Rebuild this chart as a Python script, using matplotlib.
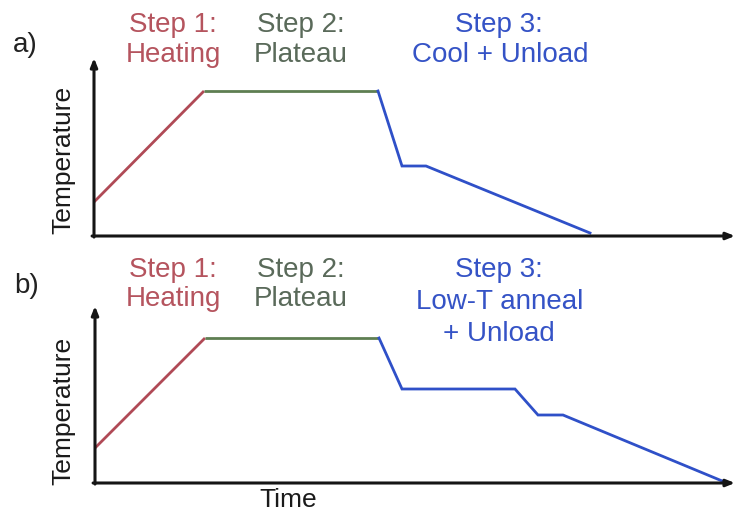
import matplotlib
matplotlib.use("Agg")
import matplotlib.pyplot as plt

plt.rcParams['font.family'] = ['Liberation Sans', 'DejaVu Sans']

W, H = 735, 514

# Temperature profiles (arbitrary time / temperature units)
time_a = [0, 110, 284, 308, 332, 496]
temp_a = [34, 145, 145, 70, 70, 3]
time_b = [0, 110, 284, 307, 420, 443, 468, 632]
temp_b = [35, 145, 145, 94, 94, 68, 68, 0]

step_titles = ["Step 1:", "Step 2:", "Step 3:"]
step_names_a = ["Heating", "Plateau", "Cool + Unload"]
step_names_b = ["Heating", "Plateau", "Low-T anneal", "+ Unload"]
panel_labels = ["a)", "b)"]

RED = "#b04a56"
GREEN = "#5e7e52"
BLUE = "#2f50c8"
RED_T = "#b5545e"
GREEN_T = "#5a6a5a"
BLUE_T = "#3553c6"

fig = plt.figure(figsize=(W / 100, H / 100), dpi=100)


def px_axes(x0, y_top, x1, y_bot):
    return fig.add_axes([x0 / W, 1 - y_bot / H, (x1 - x0) / W, (y_bot - y_top) / H])


def draw_profile(ax, t, T, xmax, ymax):
    ax.set_xlim(0, xmax)
    ax.set_ylim(0, ymax)
    ax.axis('off')
    lw = 2.0
    ax.plot(t[:2], T[:2], color=RED, lw=lw, solid_capstyle='butt', zorder=3)
    ax.plot(t[1:3], T[1:3], color=GREEN, lw=lw, solid_capstyle='butt', zorder=3)
    ax.plot(t[2:], T[2:], color=BLUE, lw=lw, solid_joinstyle='miter', zorder=3)
    # axes with arrow heads
    ax.annotate('', xy=(0, 1.0), xytext=(0, -0.006), xycoords='axes fraction',
                arrowprops=dict(arrowstyle='-|>,head_length=0.5,head_width=0.2',
                                color='#151515', lw=2.2, shrinkA=0, shrinkB=0),
                annotation_clip=False)
    ax.annotate('', xy=(1.0, 0), xytext=(-0.003, 0), xycoords='axes fraction',
                arrowprops=dict(arrowstyle='-|>,head_length=0.5,head_width=0.2',
                                color='#151515', lw=2.2, shrinkA=0, shrinkB=0),
                annotation_clip=False)


ax_a = px_axes(94, 58, 735, 236)
draw_profile(ax_a, time_a, temp_a, 641, 178)
ax_b = px_axes(95, 306, 735, 483)
draw_profile(ax_b, time_b, temp_b, 640, 177)


def ftext(x, y, s, **kw):
    kw.setdefault('fontsize', 20)
    kw.setdefault('va', 'baseline')
    kw.setdefault('ha', 'center')
    fig.text(x / W, 1 - y / H, s, **kw)


# panel a headings
ftext(13, 52, panel_labels[0], ha='left', color='#222222')
ftext(173, 32, step_titles[0], color=RED_T)
ftext(173, 62, step_names_a[0], color=RED_T)
ftext(301, 32, step_titles[1], color=GREEN_T)
ftext(301, 62, step_names_a[1], color=GREEN_T)
ftext(499, 32, step_titles[2], color=BLUE_T)
ftext(500, 62, step_names_a[2], color=BLUE_T)

# panel b headings
ftext(14, 293, panel_labels[1], ha='left', color='#222222')
ftext(173, 277, step_titles[0], color=RED_T)
ftext(173, 306, step_names_b[0], color=RED_T)
ftext(301, 277, step_titles[1], color=GREEN_T)
ftext(301, 306, step_names_b[1], color=GREEN_T)
ftext(499, 277, step_titles[2], color=BLUE_T)
ftext(500, 309, step_names_b[2], color=BLUE_T)
ftext(499, 341, step_names_b[3], color=BLUE_T)

# axis titles
ftext(63, 160, "Temperature", rotation=90, va='center', color='#1a1a1a', fontsize=19)
ftext(63, 411, "Temperature", rotation=90, va='center', color='#1a1a1a', fontsize=19)
ftext(288, 507, "Time", color='#1a1a1a', fontsize=19)

fig.savefig("out.png", dpi=100)
